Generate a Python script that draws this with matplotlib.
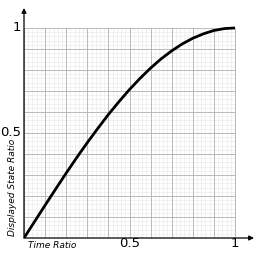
import matplotlib.pyplot as plt
import numpy as np

# values
time_ratio = [0.0, 0.05, 0.1, 0.15, 0.2, 0.25, 0.3, 0.35, 0.4, 0.45, 0.5,
              0.55, 0.6, 0.65, 0.7, 0.75, 0.8, 0.85, 0.9, 0.95, 1.0]
state_ratio = [0.0, 0.078, 0.156, 0.233, 0.309, 0.383, 0.454, 0.522, 0.588, 0.649, 0.707,
               0.760, 0.809, 0.853, 0.891, 0.924, 0.951, 0.972, 0.988, 0.997, 1.0]
x_ticks = [0.5, 1]
x_tick_labels = ["0.5", "1"]
y_ticks = [0.5, 1]
y_tick_labels = ["0.5", "1"]

fig = plt.figure(figsize=(2.61, 2.56), dpi=100)
ax = fig.add_axes([24/261, 18/256, 230/261, 230/256])
ax.set_xlim(0, 1.09)
ax.set_ylim(0, 1.095)
ax.axis("off")

# grid (minor every 0.02, major every 0.1)
minor = np.arange(0, 1.001, 0.02)
major = np.arange(0, 1.001, 0.1)
ax.vlines(minor, 0, 1, color="#ececec", lw=0.5, zorder=1)
ax.hlines(minor, 0, 1, color="#ececec", lw=0.5, zorder=1)
ax.vlines(major, 0, 1, color="#b2b2b2", lw=0.6, zorder=2)
ax.hlines(major, 0, 1, color="#b2b2b2", lw=0.6, zorder=2)

ax.plot(time_ratio, state_ratio, color="black", lw=2.0, zorder=4,
        solid_capstyle="butt")

# axes with arrow heads
arrow = dict(arrowstyle="-|>", color="black", lw=0.9, mutation_scale=7,
             shrinkA=0, shrinkB=0)
ax.annotate("", xy=(1.09, 0), xytext=(0, 0), arrowprops=arrow, zorder=5)
ax.annotate("", xy=(0, 1.095), xytext=(0, 0), arrowprops=arrow, zorder=5)

for v, s in zip(x_ticks, x_tick_labels):
    ax.text(v, -0.027, s, ha="center", va="center", fontsize=9.5)
for v, s in zip(y_ticks, y_tick_labels):
    ax.text(-0.012, v, s, ha="right", va="center", fontsize=9.5)

ax.text(0.02, -0.034, "Time Ratio", ha="left", va="center", fontsize=6.5,
        style="italic")
ax.text(-0.055, 0.24, "Displayed State Ratio", ha="center", va="center",
        rotation=90, fontsize=6.5, style="italic")

fig.savefig("out.png", dpi=100)
